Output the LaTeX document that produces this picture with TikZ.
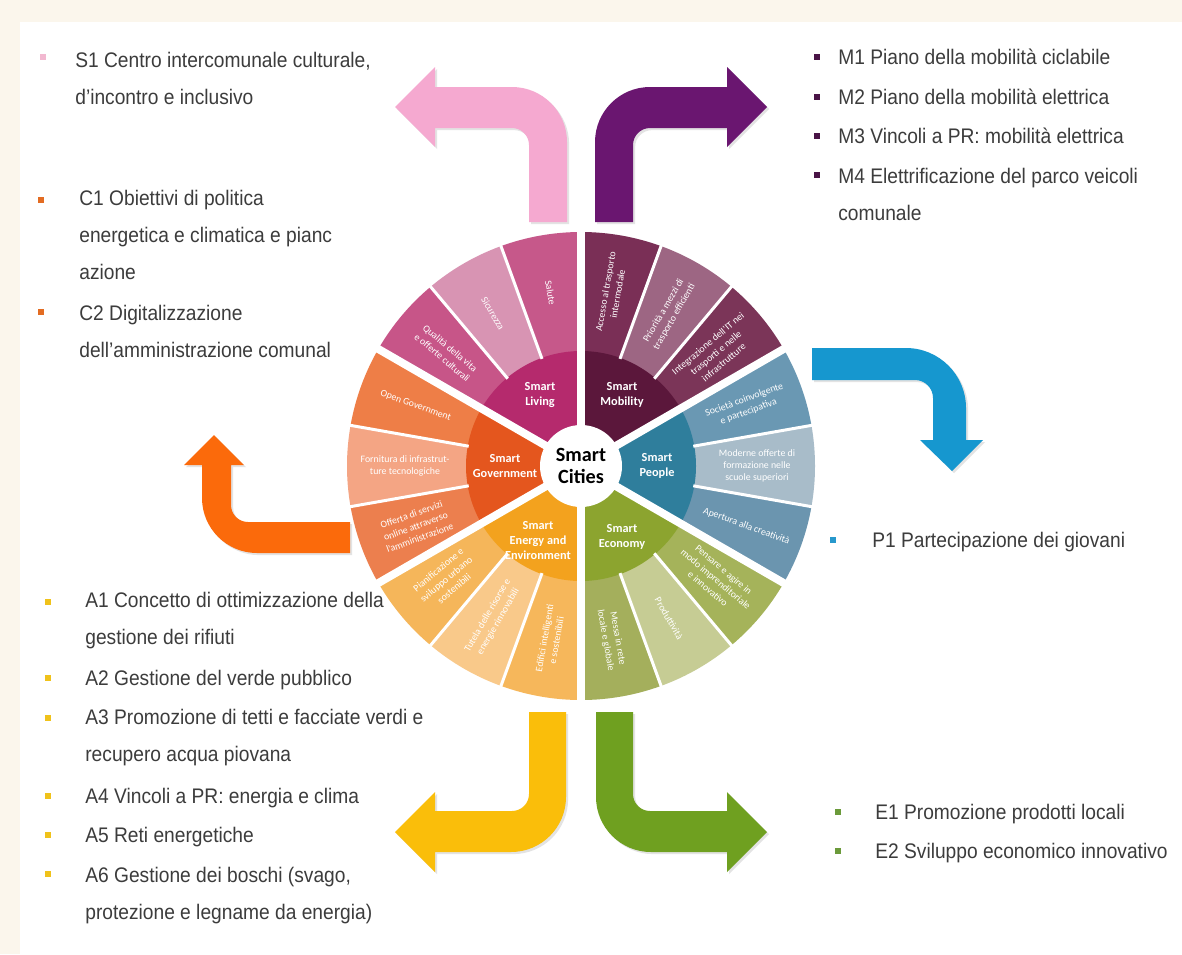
\documentclass[tikz,border=0pt]{standalone}
\usepackage{fontspec}
\newfontfamily\listfont[FakeStretch=0.91]{Liberation Sans}
\newfontfamily\wheelfont{Carlito}
\usetikzlibrary{shadows}

\definecolor{pageCream}{HTML}{FBF6EC}
\definecolor{listGray}{HTML}{3C3C3C}
\definecolor{arrS}{HTML}{F5A9D0}
\definecolor{arrM}{HTML}{6A1670}
\definecolor{arrP}{HTML}{1697CF}
\definecolor{arrC}{HTML}{FB6A0B}
\definecolor{arrA}{HTML}{FABE0A}
\definecolor{arrE}{HTML}{6FA020}
\definecolor{bulS}{HTML}{F2B8D0}
\definecolor{bulC}{HTML}{E36C22}
\definecolor{bulM}{HTML}{4A1446}
\definecolor{bulP}{HTML}{2798CC}
\definecolor{bulA}{HTML}{F0C21A}
\definecolor{bulE}{HTML}{6B9A3A}
\definecolor{livH}{HTML}{B52A6D}
\definecolor{livA}{HTML}{C6588A}
\definecolor{livB}{HTML}{D894B3}
\definecolor{livC}{HTML}{C75588}
\definecolor{mobH}{HTML}{5B173B}
\definecolor{mobA}{HTML}{7A2F56}
\definecolor{mobB}{HTML}{9D6683}
\definecolor{mobC}{HTML}{7B3558}
\definecolor{peoH}{HTML}{2F7E9C}
\definecolor{peoA}{HTML}{6B95AF}
\definecolor{peoB}{HTML}{A8BCC9}
\definecolor{peoC}{HTML}{6A98B3}
\definecolor{ecoH}{HTML}{8CA42F}
\definecolor{ecoA}{HTML}{A4AF5C}
\definecolor{ecoB}{HTML}{C6CC94}
\definecolor{ecoC}{HTML}{A5B35A}
\definecolor{eneH}{HTML}{F3A21E}
\definecolor{eneA}{HTML}{F5B65A}
\definecolor{eneB}{HTML}{F9C98A}
\definecolor{eneC}{HTML}{F6B75B}
\definecolor{govH}{HTML}{E4561E}
\definecolor{govA}{HTML}{EE7E47}
\definecolor{govB}{HTML}{F4A584}
\definecolor{govC}{HTML}{EC7F4E}

\tikzset{
  listitem/.style={anchor=base west, inner sep=0pt, align=left, text=listGray,
    font=\listfont\fontsize{12}{21}\selectfont},
  sqbullet/.style={fill=#1, inner sep=0pt, minimum size=3.4pt},
  bentarrow/.style={fill=#1, drop shadow={opacity=0.22, shadow xshift=1.2pt, shadow yshift=-1.2pt}},
  segtext/.style={text=white, align=center, inner sep=0pt,
    font=\wheelfont\fontsize{5.6}{7}\selectfont},
  hubtext/.style={text=white, align=center, inner sep=0pt,
    font=\wheelfont\bfseries\fontsize{7}{8.5}\selectfont},
}

\begin{document}
\begin{tikzpicture}[x=0.02cm, y=0.02cm]
  \fill[pageCream] (0,0) rectangle (1182,-954);
  \fill[white] (20,-22) rectangle (1182,-954);
  \useasboundingbox (0,0) rectangle (1182,-954);

  % arrows
  \fill[bentarrow=arrS] (567,-222) -- (567,-142) arc[start angle=0, end angle=90, radius=55]
    -- (435,-87) -- (435,-67) -- (395,-107) -- (435,-147) -- (435,-128) -- (512,-128)
    arc[start angle=90, end angle=0, radius=17] -- (529,-222) -- cycle;
  \fill[bentarrow=arrM] (595,-222) -- (595,-142) arc[start angle=180, end angle=90, radius=55]
    -- (727,-87) -- (727,-67) -- (767,-107) -- (727,-147) -- (727,-128) -- (650,-128)
    arc[start angle=90, end angle=180, radius=17] -- (633,-222) -- cycle;
  \fill[bentarrow=arrP] (812,-348) -- (906,-348) arc[start angle=90, end angle=0, radius=60]
    -- (966,-440) -- (983,-440) -- (952,-471) -- (920,-440) -- (933,-440) -- (933,-398)
    arc[start angle=0, end angle=90, radius=18] -- (812,-380) -- cycle;
  \fill[bentarrow=arrC] (350,-553) -- (257,-553) arc[start angle=270, end angle=180, radius=55]
    -- (202,-465) -- (184,-465) -- (214,-435) -- (244,-465) -- (231,-465) -- (231,-505)
    arc[start angle=180, end angle=270, radius=17] -- (350,-522) -- cycle;
  \fill[bentarrow=arrE] (596,-712) -- (596,-797) arc[start angle=180, end angle=270, radius=55]
    -- (727,-852) -- (727,-872) -- (767,-832) -- (727,-792) -- (727,-811) -- (650,-811)
    arc[start angle=270, end angle=180, radius=17] -- (633,-712) -- cycle;
  \fill[bentarrow=arrA] (566,-712) -- (566,-797) arc[start angle=0, end angle=-90, radius=55]
    -- (435,-852) -- (435,-872) -- (395,-832) -- (435,-792) -- (435,-811) -- (512,-811)
    arc[start angle=270, end angle=360, radius=17] -- (529,-712) -- cycle;

  % wheel
  \begin{scope}[shift={(581,-466)}]
    \foreach \m/\col/\txt in {
      80/mobA/{Accesso al trasporto\\intermodale},
      60/mobB/{Priorità a mezzi di\\trasporto efficienti},
      40/mobC/{Integrazione dell’IT nei\\trasporti e nelle\\infrastrutture},
      100/livA/{Salute},
      120/livB/{Sicurezza},
      140/livC/{Qualità della vita\\e offerte culturali},
      160/govA/{Open Government},
      180/govB/{Fornitura di infrastrut-\\ture tecnologiche},
      200/govC/{Offerta di servizi\\online attraverso\\l’amministrazione},
      220/eneA/{Pianificazione e\\sviluppo urbano\\sostenibili},
      240/eneB/{Tutela delle risorse e\\energie rinnovabili},
      260/eneC/{Edifici intelligenti\\e sostenibili},
      -80/ecoA/{Messa in rete\\locale e globale},
      -60/ecoB/{Produttività},
      -40/ecoC/{Pensare e agire in\\modo imprenditoriale\\e innovativo},
      -20/peoA/{Apertura alla creatività},
      0/peoB/{Moderne offerte di\\formazione nelle\\scuole superiori},
      20/peoC/{Società coinvolgente\\e partecipativa}}
    {
      \fill[\col] (0,0) -- (\m-10:234) arc[start angle=\m-10, end angle=\m+10, radius=234] -- cycle;
      \pgfmathsetmacro\rot{\m>90 ? \m-180 : \m}
      \node[segtext, rotate=\rot] (seg\m) at (\m:176) {\txt};
    }
    \foreach \a/\col/\lab/\r in {
      60/mobH/{Smart\\Mobility}/82,
      120/livH/{Smart\\Living}/82,
      180/govH/{Smart\\Government}/76,
      240/eneH/{Smart\\Energy and\\Environment}/86,
      300/ecoH/{Smart\\Economy}/82,
      0/peoH/{Smart\\People}/76}
    {
      \fill[\col] (0,0) -- (\a-30:115) arc[start angle=\a-30, end angle=\a+30, radius=115] -- cycle;
      \node[hubtext] (hub\a) at (\a:\r) {\lab};
    }
    \foreach \a in {10,50,70,110,130,170,190,230,250,290,310,350}
      \draw[white, line width=1.7pt] (\a:114) -- (\a:240);
    \foreach \a in {30,90,...,330}
      \draw[white, line width=4.5pt] (0,0) -- (\a:240);
    \fill[white] (0,0) circle (41);
    \node[align=center, inner sep=0pt, font=\wheelfont\bfseries\fontsize{11.5}{12.5}\selectfont] (cities) at (0,0) {Smart\\Cities};
  \end{scope}

  % lists (a node's base is the baseline of its last line)
  \node[sqbullet=bulS] (bs1) at (43,-57) {};
  \node[listitem] (s1) at (75,-104.5) {S1 Centro intercomunale culturale,\\d’incontro e inclusivo};
  \node[sqbullet=bulC] (bc1) at (41,-200) {};
  \node[listitem] (c1) at (79,-279.5) {C1 Obiettivi di politica\\energetica e climatica e pianc\\azione};
  \node[sqbullet=bulC] (bc2) at (41,-312) {};
  \node[listitem] (c2) at (79,-357.5) {C2 Digitalizzazione\\dell’amministrazione comunal};

  \node[sqbullet=bulM] (bm1) at (817,-57) {};
  \node[listitem] (m1) at (838,-64.5) {M1 Piano della mobilità ciclabile};
  \node[sqbullet=bulM] (bm2) at (817,-97) {};
  \node[listitem] (m2) at (838,-104.5) {M2 Piano della mobilità elettrica};
  \node[sqbullet=bulM] (bm3) at (817,-136) {};
  \node[listitem] (m3) at (838,-143.5) {M3 Vincoli a PR: mobilità elettrica};
  \node[sqbullet=bulM] (bm4) at (817,-175) {};
  \node[listitem] (m4) at (838,-220.5) {M4 Elettrificazione del parco veicoli\\comunale};

  \node[sqbullet=bulP] (bp1) at (833,-540) {};
  \node[listitem] (p1) at (872,-547.5) {P1 Partecipazione dei giovani};

  \node[sqbullet=bulA] (ba1) at (48,-602) {};
  \node[listitem] (a1) at (85,-644.5) {A1 Concetto di ottimizzazione della\\gestione dei rifiuti};
  \node[sqbullet=bulA] (ba2) at (48,-678) {};
  \node[listitem] (a2) at (85,-685.5) {A2 Gestione del verde pubblico};
  \node[sqbullet=bulA] (ba3) at (48,-718) {};
  \node[listitem] (a3) at (85,-761.5) {A3 Promozione di tetti e facciate verdi e\\recupero acqua piovana};
  \node[sqbullet=bulA] (ba4) at (48,-796) {};
  \node[listitem] (a4) at (85,-803.5) {A4 Vincoli a PR: energia e clima};
  \node[sqbullet=bulA] (ba5) at (48,-835) {};
  \node[listitem] (a5) at (85,-842.5) {A5 Reti energetiche};
  \node[sqbullet=bulA] (ba6) at (48,-874) {};
  \node[listitem] (a6) at (85,-919.5) {A6 Gestione dei boschi (svago,\\protezione e legname da energia)};

  \node[sqbullet=bulE] (be1) at (838,-812) {};
  \node[listitem] (e1) at (875,-819.5) {E1 Promozione prodotti locali};
  \node[sqbullet=bulE] (be2) at (838,-851) {};
  \node[listitem] (e2) at (875,-858.5) {E2 Sviluppo economico innovativo};
\end{tikzpicture}
\end{document}
